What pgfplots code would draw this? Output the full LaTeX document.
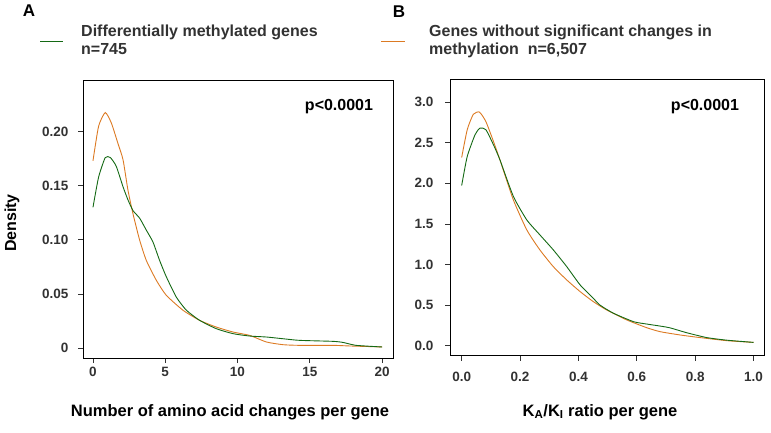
\documentclass[border=0pt]{standalone}
\usepackage{fontspec}
\setmainfont{Liberation Sans}
\usepackage{pgfplots}
\pgfplotsset{compat=1.18}
\definecolor{cgreen}{RGB}{20,105,20}
\definecolor{corange}{RGB}{220,122,35}
\definecolor{tickgray}{RGB}{50,50,50}
\begin{document}
\begin{tikzpicture}
\path[use as bounding box] (0pt,0pt) rectangle (771pt,432pt);
\pgfplotsset{
  every axis/.append style={
    scale only axis,
    axis line style={black,line width=0.9pt},
    tick align=outside,
    major tick length=5pt,
    every tick/.style={tickgray,line width=0.8pt},
    xtick pos=bottom, ytick pos=left,
    tick label style={font=\fontsize{13.5}{16}\selectfont\bfseries, text=tickgray},
    /pgf/number format/assume math mode=true,
    clip=true,
  }
}
% Panel A
\begin{axis}[at={(83pt,74pt)}, anchor=south west, width=310pt, height=278pt,
  xmin=-0.69, xmax=20.76, ymin=-0.0092, ymax=0.2477,
  xtick={0,5,10,15,20},
  ytick={0,0.05,0.10,0.15,0.20},
  yticklabels={0,0.05,0.10,0.15,0.20},
  yticklabel style={xshift=-6pt},
  xticklabel style={yshift=-1pt},
]
\addplot[corange, line width=0.9pt, smooth, tension=0.35] coordinates {
(0,0.173) (0.39,0.205) (0.85,0.2176) (1.27,0.208) (1.73,0.189) (2.08,0.174)
(2.42,0.146) (2.77,0.124) (3.23,0.0997) (3.69,0.081) (4.38,0.0627) (5.07,0.0488)
(6.23,0.0349) (7.38,0.0256) (8.53,0.0194) (9.69,0.0148) (10.84,0.0117) (12.0,0.0056)
(13.15,0.0031) (14.3,0.0025) (16.6,0.0025) (17.8,0.0019) (20,0.001)};
\addplot[cgreen, line width=0.9pt, smooth, tension=0.35] coordinates {
(0,0.130) (0.39,0.158) (0.85,0.176) (1.2,0.176) (1.61,0.168) (2.08,0.149)
(2.42,0.137) (2.77,0.127) (3.23,0.120) (3.69,0.109) (4.15,0.098) (4.61,0.081)
(5.07,0.066) (5.77,0.047) (6.46,0.035) (7.38,0.0256) (8.53,0.0179) (9.69,0.0133)
(10.84,0.0111) (12,0.0102) (13.15,0.0086) (14.3,0.0071) (16.6,0.0062) (17.3,0.0052)
(18.2,0.0025) (20,0.001)};
\end{axis}
% Panel B
\begin{axis}[at={(450pt,76.3pt)}, anchor=south west, width=314pt, height=276pt,
  xmin=-0.04, xmax=1.036, ymin=-0.123, ymax=3.276,
  xtick={0,0.2,0.4,0.6,0.8,1.0},
  ytick={0,0.5,1.0,1.5,2.0,2.5,3.0},
  xticklabel style={/pgf/number format/.cd,fixed,fixed zerofill,precision=1, /tikz/.cd, yshift=-8pt},
  yticklabel style={/pgf/number format/.cd,fixed,fixed zerofill,precision=1, /tikz/.cd, xshift=-8pt},
]
\addplot[corange, line width=0.9pt, smooth, tension=0.35] coordinates {
(0,2.318) (0.019,2.66) (0.04,2.85) (0.061,2.877) (0.083,2.76) (0.109,2.515)
(0.131,2.29) (0.177,1.797) (0.223,1.427) (0.268,1.18) (0.314,0.974) (0.36,0.81)
(0.406,0.666) (0.451,0.543) (0.497,0.44) (0.566,0.317) (0.634,0.222) (0.68,0.173)
(0.749,0.132) (0.817,0.1) (0.909,0.062) (1.0,0.041)};
\addplot[cgreen, line width=0.9pt, smooth, tension=0.35] coordinates {
(0,1.973) (0.019,2.33) (0.046,2.6) (0.063,2.68) (0.083,2.66) (0.109,2.474)
(0.131,2.29) (0.177,1.84) (0.223,1.55) (0.268,1.365) (0.314,1.18) (0.36,0.974)
(0.406,0.748) (0.451,0.584) (0.474,0.50) (0.52,0.40) (0.589,0.296) (0.634,0.267)
(0.68,0.242) (0.714,0.22) (0.771,0.16) (0.84,0.1) (0.909,0.068) (1.0,0.041)};
\end{axis}
% annotations
\node[font=\fontsize{16}{19}\selectfont\bfseries] at (339pt,325pt) {p<0.0001};
\node[font=\fontsize{16}{19}\selectfont\bfseries] at (705pt,325pt) {p<0.0001};
\node[font=\fontsize{16}{19}\selectfont\bfseries, rotate=90] at (12pt,209pt) {Density};
\node[font=\fontsize{16.5}{19}\selectfont\bfseries] at (230pt,20pt) {Number of amino acid changes per gene};
\node[font=\fontsize{16.5}{19}\selectfont\bfseries] at (600pt,20pt) {K\textsubscript{A}/K\textsubscript{I} ratio per gene};
% panel letters
\node[font=\fontsize{17}{19}\selectfont\bfseries] at (29pt,421pt) {A};
\node[font=\fontsize{17}{19}\selectfont\bfseries] at (399pt,420pt) {B};
% legends
\draw[cgreen, line width=1pt] (40pt,390.3pt) -- (63pt,390.3pt);
\node[anchor=base west, font=\fontsize{16}{18.3}\selectfont\bfseries, text=tickgray, inner sep=0pt] at (81pt,395.3pt) {Differentially methylated genes};
\node[anchor=base west, font=\fontsize{16}{18.3}\selectfont\bfseries, text=tickgray, inner sep=0pt] at (81pt,377pt) {n=745};
\draw[corange, line width=1pt] (381pt,390.3pt) -- (405pt,390.3pt);
\node[anchor=base west, font=\fontsize{16}{18.3}\selectfont\bfseries, text=tickgray, inner sep=0pt] at (429pt,395.3pt) {Genes without significant changes in};
\node[anchor=base west, font=\fontsize{16}{18.3}\selectfont\bfseries, text=tickgray, inner sep=0pt] at (429pt,377pt) {methylation\ \ n=6,507};
\end{tikzpicture}
\end{document}
